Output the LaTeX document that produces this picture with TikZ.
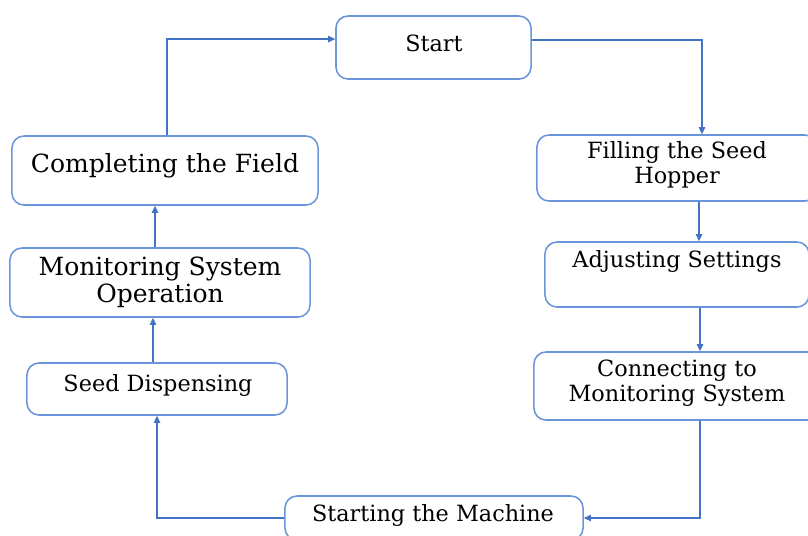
\documentclass[tikz,border=0pt]{standalone}
\usepackage{fontspec}
\setmainfont{DejaVu Serif}
\usetikzlibrary{arrows.meta}
\definecolor{lineblue}{HTML}{4472C4}
\definecolor{boxblue}{HTML}{6B95DA}
\tikzset{
	box/.style={draw=boxblue, line width=1.1pt, rounded corners=0.3cm},
	txt/.style={align=center, font=\fontsize{15.9}{17.5}\selectfont, text=black},
	bigtxt/.style={align=center, font=\fontsize{17.8}{19}\selectfont, text=black},
	flow/.style={draw=lineblue, line width=1pt, -{Triangle[length=5pt,width=4.5pt]}}
}
\begin{document}
\begin{tikzpicture}[x=0.025cm, y=-0.025cm]
	\useasboundingbox (0,0) rectangle (808,535);
	\clip (0,0) rectangle (808,535);
	% les boites
	\node[box, minimum width=4.875cm, minimum height=1.575cm] (start) at (433.5,47.5) {};
	\node[box, minimum width=7.0cm, minimum height=1.65cm] (fill) at (677,168) {};
	\node[box, minimum width=6.6cm, minimum height=1.625cm] (adjust) at (677,274.5) {};
	\node[box, minimum width=7.15cm, minimum height=1.7cm] (connect) at (677,386) {};
	\node[box, minimum width=7.45cm, minimum height=1.1cm] (machine) at (434,518) {};
	\node[box, minimum width=6.5cm, minimum height=1.3cm] (seed) at (157,389) {};
	\node[box, minimum width=7.5cm, minimum height=1.725cm] (monitor) at (160,282.5) {};
	\node[box, minimum width=7.65cm, minimum height=1.725cm] (complete) at (165,170.5) {};
	% les textes
	\node[txt] (starttxt) at (434,43) {Start};
	\node[txt] (filltxt) at (677,165) {Filling the Seed\\Hopper};
	\node[txt] (adjusttxt) at (677,261) {Adjusting Settings};
	\node[txt] (connecttxt) at (677,383) {Connecting to\\Monitoring System};
	\node[txt] (machinetxt) at (433,515) {Starting the Machine};
	\node[txt] (seedtxt) at (158,385) {Seed Dispensing};
	\node[bigtxt] (monitortxt) at (160,282) {Monitoring System\\Operation};
	\node[bigtxt] (completetxt) at (165,166) {Completing the Field};
	% les fleches
	\draw[flow] ([xshift=0.05cm]complete.north) |- ([yshift=0.21cm]start.west);
	\draw[flow] ([yshift=0.19cm]start.east) -| ([xshift=0.625cm]fill.north);
	\draw[flow] ([xshift=0.55cm]fill.south) -- ([xshift=0.55cm]adjust.north);
	\draw[flow] ([xshift=0.575cm]adjust.south) -- ([xshift=0.575cm]connect.north);
	\draw[flow] ([xshift=0.575cm]connect.south) |- (machine.east);
	\draw[flow] (machine.west) -| (seed.south);
	\draw[flow] ([xshift=-0.1cm]seed.north) -- ([xshift=-0.1cm]seed.north |- monitor.south);
	\draw[flow] ([xshift=-0.125cm]monitor.north) -- ([xshift=-0.125cm]monitor.north |- complete.south);
\end{tikzpicture}
\end{document}
